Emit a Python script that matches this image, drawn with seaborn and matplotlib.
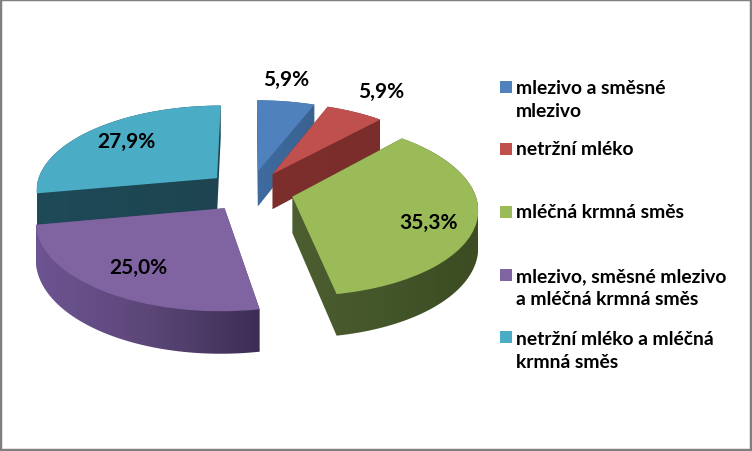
import numpy as np
import seaborn as sns
import matplotlib.pyplot as plt
from matplotlib.colors import LinearSegmentedColormap
from matplotlib.patches import Polygon, Rectangle
from matplotlib.transforms import Affine2D, Transform

labels = ['mlezivo a směsné\nmlezivo', 'netržní mléko', 'mléčná krmná směs',
          'mlezivo, směsné mlezivo\na mléčná krmná směs',
          'netržní mléko a mléčná\nkrmná směs']
values = [5.9, 5.9, 35.3, 25.0, 27.9]

top_colors = ['#4f81bd', '#c0504d', '#9bbb59', '#8064a2', '#4bacc6']
wall_colors = [['#3f6b9f', '#3a6291'],
               ['#7d2f2d', '#7a2d2b'],
               ['#4d5f30', '#43552a', '#3d4c22'],
               ['#6d5492', '#5c4778', '#3d2e54'],
               ['#1f4a58', '#1d4450']]
draw_order = [0, 1, 4, 2, 3]
value_xy = [(286, 80), (381, 92), (429, 223), (138, 268), (126, 142)]
legend_y = [100, 150, 213, 288, 351]
swatch_y = [88, 150, 213, 276, 338]

sns.set_theme(style='white')
plt.rcParams['font.family'] = ['Lato', 'DejaVu Sans']


# flat pie coordinates -> picture coordinates, with a bit of perspective
class Tilt(Transform):
    input_dims = 2
    output_dims = 2

    def __init__(self, z=0):
        super().__init__()
        self.z = z

    def transform_non_affine(self, xy):
        xy = np.asarray(xy, dtype=float)
        d = 1 + 0.128 * xy[:, 1]
        return np.column_stack([250 + 182 * xy[:, 0] / d,
                                192 - 85 * xy[:, 1] / d + 36 * self.z / d])


def hull(pts):
    pts = sorted(map(tuple, pts))
    def half(seq):
        out = []
        for p in seq:
            while len(out) > 1 and np.cross(np.subtract(out[-1], out[-2]), np.subtract(p, out[-1])) <= 0:
                out.pop()
            out.append(p)
        return out[:-1]
    return np.array(half(pts) + half(pts[::-1]))


fig, ax = plt.subplots(figsize=(7.52, 4.52), dpi=100)
fig.subplots_adjust(0, 0, 1, 1)

palette = sns.color_palette(top_colors)
wedges, _ = ax.pie(values, colors=palette, startangle=90, counterclock=False,
                   explode=[0.24] * len(values), wedgeprops={'linewidth': 0})

for rank, i in enumerate(draw_order):
    wedge = wedges[i]
    # scale up first, curves get flattened too coarsely at radius 1
    flat = wedge.get_path().to_polygons(Affine2D().scale(2000), closed_only=False)[0] / 2000
    outline = hull(np.vstack([Tilt(0).transform(flat), Tilt(1).transform(flat)]))
    # side walls: horizontal shade clipped to the extruded slice
    cmap = LinearSegmentedColormap.from_list('wall', wall_colors[i])
    shape = Polygon(outline, closed=True, facecolor='none', edgecolor='none', zorder=2 * rank + 1)
    ax.add_patch(shape)
    img = ax.imshow(np.linspace(0, 1, 200)[None, :], cmap=cmap, aspect='auto', zorder=2 * rank + 1,
                    extent=(outline[:, 0].min(), outline[:, 0].max(), outline[:, 1].max(), outline[:, 1].min()))
    img.set_clip_path(shape)
    wedge.set_transform(Tilt(0) + ax.transData)
    wedge.set_zorder(2 * rank + 2)

for v, (x, y) in zip(values, value_xy):
    ax.text(x, y, f'{v:.1f}%'.replace('.', ','), ha='center', va='center',
            fontsize=15, fontweight='bold', color='black', zorder=20)

for name, c, y, sy in zip(labels, palette, legend_y, swatch_y):
    ax.add_patch(Rectangle((500, sy - 6), 12, 12, facecolor=c, edgecolor='none', zorder=20))
    ax.text(516, y, name, ha='left', va='center', fontsize=13.9, fontweight='bold',
            linespacing=1.38, color='black', zorder=20)

ax.set_xlim(0, 752)
ax.set_ylim(452, 0)
ax.set_aspect('auto')
ax.set_frame_on(True)
ax.set_axis_on()
ax.set_xticks([])
ax.set_yticks([])
for s in ax.spines.values():
    s.set_visible(True)
    s.set_color('#808080')
    s.set_linewidth(3.2)

fig.savefig('out.png', dpi=100)
